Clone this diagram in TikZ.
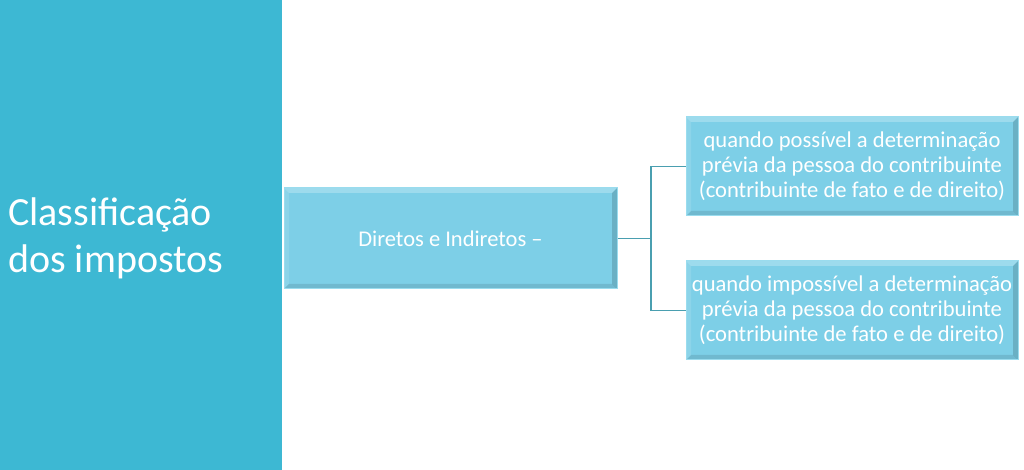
\documentclass[tikz,border=0pt]{standalone}
\usepackage{fontspec}
\setmainfont{Carlito}
\usetikzlibrary{calc}
\definecolor{panel}{HTML}{3DB8D3}
\definecolor{boxfill}{HTML}{7DCFE7}
\definecolor{boxedge}{HTML}{9ADCEE}
\definecolor{conn}{HTML}{4A9FB0}
\tikzset{
  bevelbox/.style={draw=boxedge, line width=1pt, fill=boxfill, inner sep=0pt, text=white, align=center,
    path picture={
      \coordinate (nw) at (path picture bounding box.north west);
      \coordinate (ne) at (path picture bounding box.north east);
      \coordinate (sw) at (path picture bounding box.south west);
      \coordinate (se) at (path picture bounding box.south east);
      \fill[white,opacity=0.25] (nw) -- (ne) -- ($(ne)+(-5pt,-5pt)$) -- ($(nw)+(5pt,-5pt)$) -- cycle;
      \fill[white,opacity=0.12] (nw) -- (sw) -- ($(sw)+(5pt,5pt)$) -- ($(nw)+(5pt,-5pt)$) -- cycle;
      \fill[black,opacity=0.10] (sw) -- (se) -- ($(se)+(-5pt,5pt)$) -- ($(sw)+(5pt,5pt)$) -- cycle;
      \fill[black,opacity=0.15] (ne) -- (se) -- ($(se)+(-5pt,5pt)$) -- ($(ne)+(-5pt,-5pt)$) -- cycle;
    }},
  connector/.style={draw=conn, line width=1.2pt},
  small/.style={font=\fontsize{22.6}{25}\selectfont}
}
\begin{document}
\begin{tikzpicture}[x=1pt,y=1pt]
\useasboundingbox (0,0) rectangle (1024,470);
\fill[white] (0,0) rectangle (1024,470);
\fill[panel] (0,0) rectangle (282,470);
\node[anchor=west, text=white, align=left, font=\fontsize{40}{47}\selectfont, inner sep=0pt] (title) at (8,232) {Classificação\\dos impostos};
\node[bevelbox, minimum width=333pt, minimum height=101pt, font=\fontsize{22.5}{26}\selectfont] (main) at (450.5,231.5) {Diretos e Indiretos –};
\node[bevelbox, small, minimum width=332pt, minimum height=99pt] (top) at (852,303.5) {quando possível a determinação\\prévia da pessoa do contribuinte\\(contribuinte de fato e de direito)};
\node[bevelbox, small, minimum width=332pt, minimum height=99pt] (bot) at (852,159.5) {quando impossível a determinação\\prévia da pessoa do contribuinte\\(contribuinte de fato e de direito)};
\coordinate (j) at (651,231.5);
\draw[connector] (main.east) -- (j);
\draw[connector] (j) |- (top.west);
\draw[connector] (j) |- (bot.west);
\end{tikzpicture}
\end{document}
